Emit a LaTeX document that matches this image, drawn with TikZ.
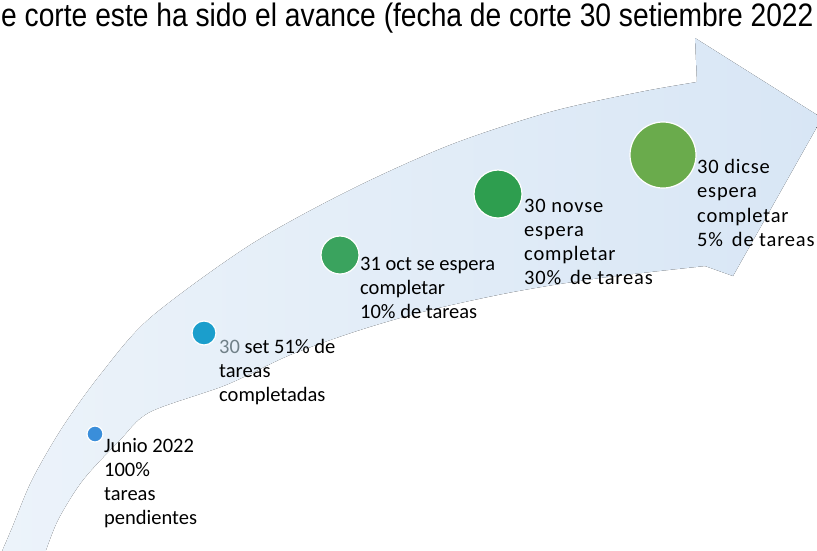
\documentclass[tikz,border=0pt]{standalone}
\usepackage{fontspec}
\usepackage{graphicx}
\setmainfont{Carlito}
\newfontfamily\titlefont{Liberation Sans}
\usetikzlibrary{positioning}

\definecolor{arrowlight}{RGB}{236,243,250}
\definecolor{arrowdark}{RGB}{216,230,245}
\definecolor{dotone}{RGB}{58,142,218}
\definecolor{dottwo}{RGB}{27,158,204}
\definecolor{dotthree}{RGB}{58,163,94}
\definecolor{dotfour}{RGB}{46,158,79}
\definecolor{dotfive}{RGB}{106,171,76}
\definecolor{greydigit}{RGB}{112,128,136}

\tikzset{
  milestone/.style={circle,fill=#1,draw=white,line width=1.2pt,inner sep=0pt},
  steplabel/.style={anchor=north west,align=left,inner sep=0pt,
    font=\fontsize{20.5}{24}\selectfont},
}

\begin{document}
\begin{tikzpicture}[x=1pt,y=-1pt]
\useasboundingbox (0,0) rectangle (817,550);
\clip (0,0) rectangle (817,550);

% curved arrow
\fill[left color=arrowlight,right color=arrowdark]
  plot[smooth] coordinates {(0,556) (12,528) (32,480) (62,428) (100,375) (150,318)
    (250,245) (350,190) (450,145) (550,112) (640,92) (697,82)}
  -- (695,38) -- (822,118) -- (733,276) -- (705,266)
  -- plot[smooth] coordinates {(705,266) (600,278) (513,292) (430,310) (360,330)
    (290,355) (226,385) (150,412) (120,440) (83,480) (58,520) (44,556)} -- cycle;

% title
\node[anchor=base west,inner sep=0pt] (title) at (1,26)
  {\scalebox{0.868}[1]{\titlefont\fontsize{32.5}{38}\selectfont e corte este ha sido el avance (fecha de corte 30 setiembre 2022}};

% milestones
\node[milestone=dotone,minimum size=16pt] (jun) at (95,434) {};
\node[milestone=dottwo,minimum size=24pt] (sep) at (204,333) {};
\node[milestone=dotthree,minimum size=38pt] (oct) at (340,255) {};
\node[milestone=dotfour,minimum size=48pt] (nov) at (498,194) {};
\node[milestone=dotfive,minimum size=66pt] (dec) at (663,155) {};

% labels
\node[steplabel] (junlbl) at (104,438) {Junio 2022\\100\%\\tareas\\pendientes};
\node[steplabel] (seplbl) at (219,339) {\textcolor{greydigit}{30} set 51\% de\\tareas\\completadas};
\node[steplabel] (octlbl) at (360,257) {31 oct se espera\\completar\\10\% de tareas};
\node[steplabel,font=\fontsize{20.5}{24}\selectfont\addfontfeature{LetterSpace=4}] (novlbl) at (524,199)
  {30 novse\\espera\\completar\\30\%\, de tareas};
\node[steplabel,font=\fontsize{20.5}{24.5}\selectfont\addfontfeature{LetterSpace=4}] (declbl) at (697,159)
  {30 dicse\\espera\\completar\\5\%\, de tareas};
\end{tikzpicture}
\end{document}
